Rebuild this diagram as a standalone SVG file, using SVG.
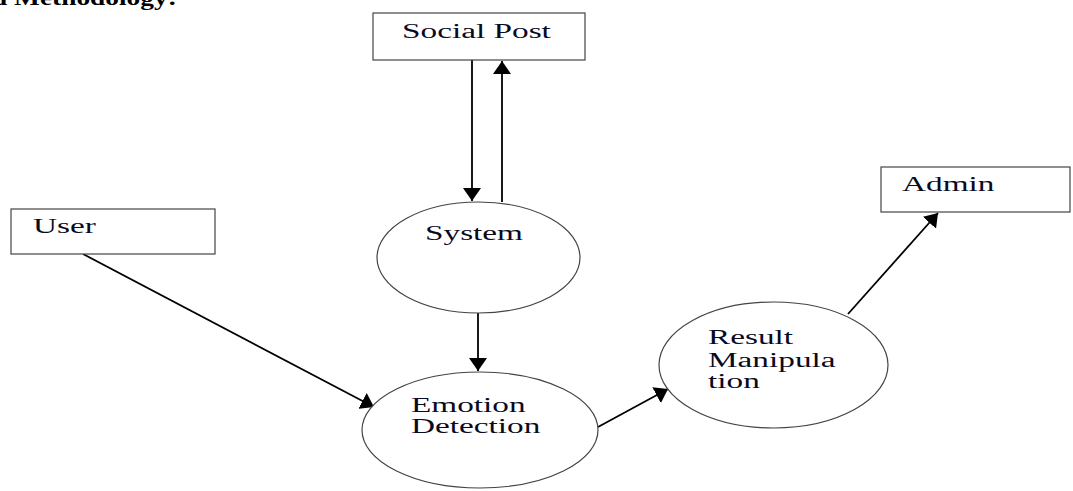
<svg xmlns="http://www.w3.org/2000/svg" width="1073" height="491" viewBox="0 0 1073 491">
<style>
.box{fill:#fff;stroke:#444;stroke-width:1.2}
.proc{fill:#fff;stroke:#444;stroke-width:1.2}
.lbl{font-family:"Liberation Serif","Times New Roman",serif;font-size:20px;fill:#0a0a1e}
.edge{stroke:#000;stroke-width:1.8;fill:none}
.title{font-family:"Liberation Serif","Times New Roman",serif;font-size:20px;font-weight:bold;fill:#000}
</style>
<defs>
<marker id="ah" markerUnits="userSpaceOnUse" markerWidth="14" markerHeight="18" viewBox="0 0 14 18" refX="13" refY="9" orient="auto">
<path d="M0,0 L13,9 L0,18 Z" fill="#000"/>
</marker>
</defs>
<rect width="1073" height="491" fill="#fff"/>
<text class="title" transform="translate(-8,5) scale(1.37,1)">d Methodology:</text>
<g id="connectors">
<line class="edge" x1="472" y1="60" x2="472" y2="201" marker-end="url(#ah)"/>
<line class="edge" x1="502" y1="202" x2="502" y2="61" marker-end="url(#ah)"/>
<line class="edge" x1="478" y1="313" x2="478" y2="371" marker-end="url(#ah)"/>
<line class="edge" x1="83" y1="254" x2="374" y2="407" marker-end="url(#ah)"/>
<line class="edge" x1="598" y1="427" x2="668" y2="389" marker-end="url(#ah)"/>
<line class="edge" x1="848" y1="314" x2="938" y2="213" marker-end="url(#ah)"/>
</g>
<g id="social-post">
<rect class="box" x="373" y="13" width="212" height="47"/>
<text class="lbl" transform="translate(402,38) scale(1.665,1)">Social Post</text>
</g>
<g id="user">
<rect class="box" x="11" y="209" width="204" height="45"/>
<text class="lbl" transform="translate(33,233) scale(1.665,1)">User</text>
</g>
<g id="admin">
<rect class="box" x="881" y="167" width="189" height="45"/>
<text class="lbl" transform="translate(902,191) scale(1.665,1)">Admin</text>
</g>
<g id="system">
<ellipse class="proc" cx="478.5" cy="257.5" rx="101.5" ry="55.5"/>
<text class="lbl" transform="translate(425,240) scale(1.665,1)">System</text>
</g>
<g id="emotion-detection">
<ellipse class="proc" cx="480" cy="430" rx="118" ry="58"/>
<text class="lbl" transform="translate(411,412) scale(1.665,1)">Emotion</text>
<text class="lbl" transform="translate(411,433) scale(1.665,1)">Detection</text>
</g>
<g id="result-manipulation">
<ellipse class="proc" cx="773.5" cy="365" rx="114.5" ry="63"/>
<text class="lbl" transform="translate(708,344) scale(1.665,1)">Result</text>
<text class="lbl" transform="translate(708,367) scale(1.665,1)">Manipula</text>
<text class="lbl" transform="translate(708,388) scale(1.665,1)">tion</text>
</g>
</svg>
